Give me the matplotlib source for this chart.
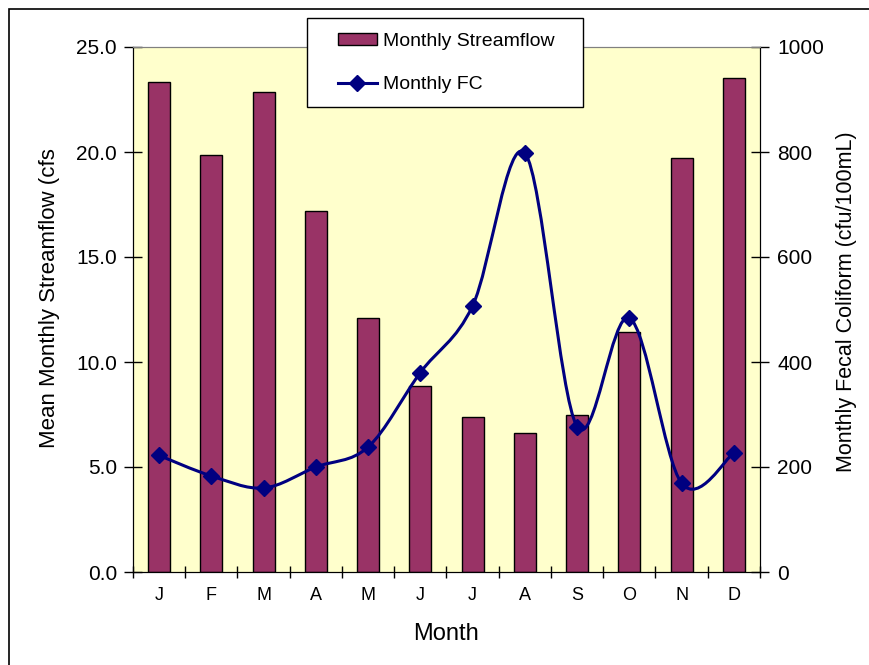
import numpy as np
import matplotlib
matplotlib.use("Agg")
import matplotlib.pyplot as plt
from matplotlib.path import Path
from matplotlib.patches import PathPatch, Patch, Rectangle
from matplotlib.lines import Line2D

months = ["J", "F", "M", "A", "M", "J", "J", "A", "S", "O", "N", "D"]
streamflow = [23.33, 19.86, 22.85, 17.2, 12.1, 8.84, 7.38, 6.6, 7.47, 11.43, 19.71, 23.52]
fecal_coliform = [222, 183, 160, 200, 238, 380, 507, 798, 277, 484, 169, 227]

plt.rcParams["font.family"] = ["Liberation Sans", "DejaVu Sans"]

BAR = "#993366"
LINE = "#000080"


def smooth_path(x, y):
    # Excel style smoothed line: cubic bezier, control points from neighbours
    pts = np.column_stack([x, y]).astype(float)
    n = len(pts)
    verts = [pts[0]]
    codes = [Path.MOVETO]
    for i in range(n - 1):
        p0 = pts[i - 1] if i > 0 else pts[i]
        p1 = pts[i]
        p2 = pts[i + 1]
        p3 = pts[i + 2] if i + 2 < n else pts[i + 1]
        c1 = p1 + (p2 - p0) / 6.0
        c2 = p2 - (p3 - p1) / 6.0
        verts += [c1, c2, p2]
        codes += [Path.CURVE4] * 3
    return Path(verts, codes)


fig = plt.figure(figsize=(8.7, 6.65), dpi=100)
ax = fig.add_axes([133 / 870, 1 - 572 / 665, 627 / 870, 525 / 665])
ax.set_facecolor("#FFFFCC")

x = np.arange(len(months))
ax.bar(x, streamflow, width=0.42, color=BAR, edgecolor="black", linewidth=1.0, zorder=2)
ax.set_xlim(-0.5, 11.5)
ax.set_ylim(0, 25)
ax.set_yticks(np.arange(0, 25.1, 5))
ax.set_yticklabels([f"{v:.1f}" for v in np.arange(0, 25.1, 5)], fontsize=15)
ax.tick_params(axis="y", direction="inout", length=13, width=1, pad=5)

ax.set_xticks(np.arange(-0.5, 12, 1))
ax.set_xticklabels([])
ax.tick_params(axis="x", which="major", direction="inout", length=9, width=1)
ax.set_xticks(x, minor=True)
ax.set_xticklabels(months, minor=True, fontsize=13)
ax.tick_params(axis="x", which="minor", length=0, pad=11)

ax.set_xlabel("Month", fontsize=17, labelpad=13.5)
ax.set_ylabel("Mean Monthly Streamflow (cfs", fontsize=16)
ax.yaxis.set_label_coords(-0.116, 0.522)

for s in ["left", "bottom"]:
    ax.spines[s].set_color("black")
ax.spines["top"].set_color("#808080")

ax2 = ax.twinx()
ax2.set_ylim(0, 1000)
ax2.set_yticks(np.arange(0, 1001, 200))
ax2.tick_params(axis="y", direction="inout", length=13, width=1, pad=6, labelsize=15)
ax2.set_ylabel("Monthly Fecal Coliform (cfu/100mL)", fontsize=15.5)
ax2.yaxis.set_label_coords(1.121, 0.514)
ax2.spines["top"].set_color("#808080")

path = smooth_path(x, fecal_coliform)
ax2.add_patch(PathPatch(path, facecolor="none", edgecolor=LINE, linewidth=2.2, zorder=3))
ax2.plot(x, fecal_coliform, linestyle="none", marker="D", markersize=8.5,
         color=LINE, zorder=4)

# legend box drawn separately so the padding matches
fig.patches.append(Rectangle((307 / 870, 1 - 107 / 665), 276 / 870, 89 / 665,
                             transform=fig.transFigure, facecolor="white",
                             edgecolor="black", linewidth=1.0, zorder=5))
handles = [
    Patch(facecolor=BAR, edgecolor="black", linewidth=1.0),
    Line2D([], [], color=LINE, linewidth=2.2, marker="D", markersize=8),
]
leg = fig.legend(handles, ["Monthly Streamflow", "Monthly FC"],
                 loc="upper left", bbox_to_anchor=(338 / 870, 1 - 33 / 665),
                 fontsize=14, frameon=False, handlelength=2.0, handleheight=0.55,
                 labelspacing=1.35, borderpad=0, borderaxespad=0,
                 handletextpad=0.3)
leg.set_zorder(10)

fig.patches.append(Rectangle((9.5 / 870, -0.1), 1.2, 1 - 8.5 / 665 + 0.1,
                             transform=fig.transFigure, fill=False,
                             edgecolor="black", linewidth=1.2, clip_on=False))

fig.savefig("out.png", dpi=100)
